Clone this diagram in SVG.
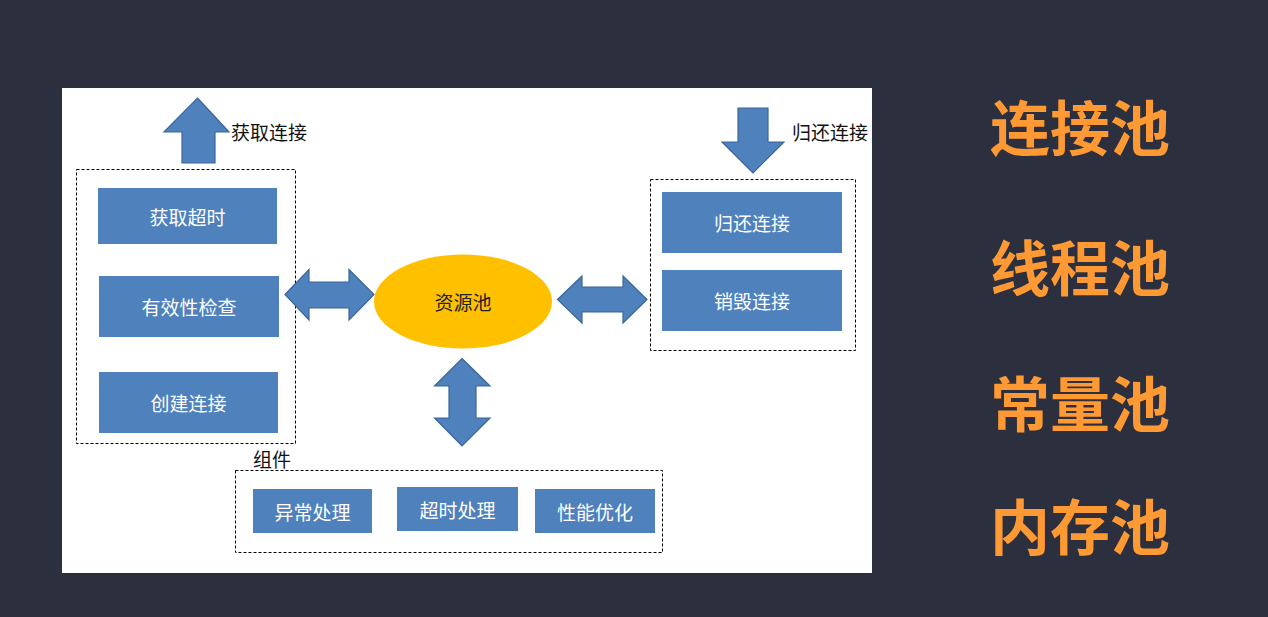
<svg xmlns="http://www.w3.org/2000/svg" width="1268" height="617" viewBox="0 0 1268 617">
<style>
.box{fill:#4F81BD;}
.bt{fill:#ffffff;font-family:"Noto Sans CJK SC",sans-serif;font-size:19px;text-anchor:middle;dominant-baseline:central;}
.lbl{fill:#111111;font-family:"Noto Sans CJK SC",sans-serif;font-size:19px;}
.dash{fill:none;stroke:#000000;stroke-width:1;stroke-dasharray:3,2;}
.arr{fill:#4F81BD;stroke:#3B6698;stroke-width:1.2;stroke-linejoin:miter;}
.big{fill:#FF9933;font-family:"Noto Sans CJK SC",sans-serif;font-weight:bold;font-size:60px;text-anchor:middle;dominant-baseline:central;}
</style>
<rect x="0" y="0" width="1268" height="617" fill="#2B2F3E"/>
<rect x="62" y="88" width="810" height="485" fill="#ffffff"/>

<g id="group-left">
<rect class="dash" x="76.5" y="169.5" width="219" height="274"/>
</g>
<g id="group-right">
<rect class="dash" x="650.5" y="179.5" width="205" height="171"/>
</g>
<g id="group-components">
<rect class="dash" x="235.5" y="470.5" width="427" height="82"/>
<text class="lbl" x="253" y="467">组件</text>
</g>

<g id="connectors">
<g id="arrow-get">
<polygon class="arr" points="197.5,98 229,132 215,132 215,163 182,163 182,132 164,132"/>
<text class="lbl" x="231" y="140">获取连接</text>
</g>
<g id="arrow-return">
<polygon class="arr" points="738,108 768,108 768,142 784,142 753,173 722,142 738,142"/>
<text class="lbl" x="792" y="140">归还连接</text>
</g>
<polygon class="arr" points="285,294.5 309,269.5 309,282 349,282 349,269.5 374,294.5 349,320 349,308 309,308 309,320"/>
<polygon class="arr" points="557.5,299.5 582,276 582,287 623,287 623,276 647,299.5 623,323 623,312 582,312 582,323"/>
<polygon class="arr" points="462,358.5 490,386 476,386 476,418 490,418 462,446 434.5,418 449,418 449,386 434.5,386"/>
</g>

<g id="node-pool">
<ellipse cx="463" cy="301.5" rx="89" ry="47" fill="#FFC000"/>
<text x="463" y="301.5" fill="#222222" font-family="Noto Sans CJK SC, sans-serif" font-size="19" text-anchor="middle" dominant-baseline="central">资源池</text>
</g>

<g id="node-get-timeout"><rect class="box" x="98" y="188" width="179" height="56"/><text class="bt" x="187.5" y="216">获取超时</text></g>
<g id="node-validity"><rect class="box" x="99" y="276" width="180" height="61"/><text class="bt" x="189" y="306.5">有效性检查</text></g>
<g id="node-create"><rect class="box" x="99" y="372" width="179" height="61"/><text class="bt" x="188.5" y="402.5">创建连接</text></g>

<g id="node-return"><rect class="box" x="662" y="192" width="180" height="61"/><text class="bt" x="752" y="222.5">归还连接</text></g>
<g id="node-destroy"><rect class="box" x="662" y="270" width="180" height="61"/><text class="bt" x="752" y="300.5">销毁连接</text></g>

<g id="node-exception"><rect class="box" x="253" y="489" width="119" height="44"/><text class="bt" x="312.5" y="511">异常处理</text></g>
<g id="node-timeout"><rect class="box" x="397" y="487" width="121" height="44"/><text class="bt" x="457.5" y="509">超时处理</text></g>
<g id="node-perf"><rect class="box" x="535" y="489" width="120" height="44"/><text class="bt" x="595" y="511">性能优化</text></g>

<g id="titles">
<text class="big" x="1080" y="124">连接池</text>
<text class="big" x="1080" y="264">线程池</text>
<text class="big" x="1080" y="400">常量池</text>
<text class="big" x="1080" y="523">内存池</text>
</g>
</svg>
